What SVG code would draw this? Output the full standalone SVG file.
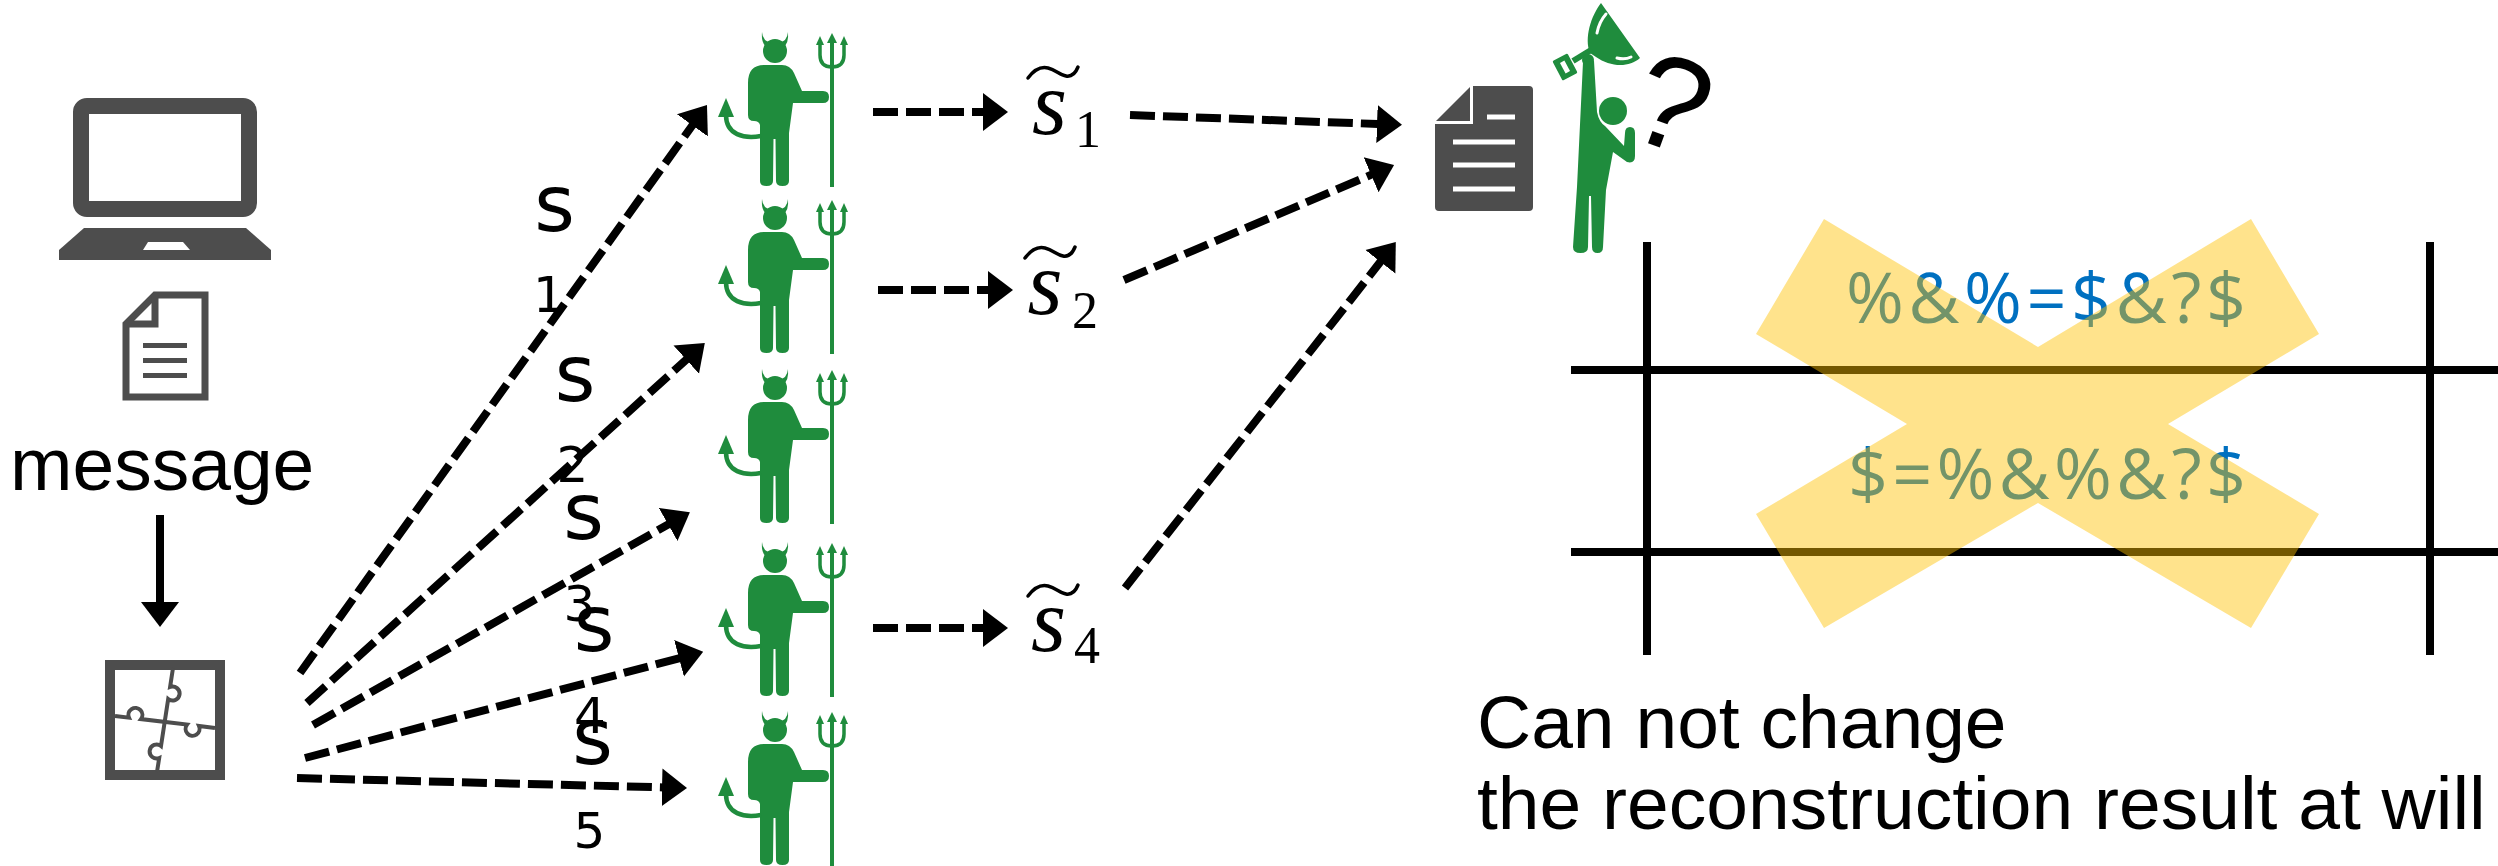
<svg xmlns="http://www.w3.org/2000/svg" xmlns:xlink="http://www.w3.org/1999/xlink" width="2498" height="866" viewBox="0 0 2498 866">
  <style>
    .icon { fill: #4D4D4D; }
    .icon-line { fill: none; stroke: #4D4D4D; }
    .green { fill: #1F8C3D; }
    .green-line { fill: none; stroke: #1F8C3D; }
    .dash { fill: none; stroke: #000; stroke-width: 8; stroke-dasharray: 25 8; }
    .solid { fill: none; stroke: #000; stroke-width: 8; }
    .label { font-family: "Liberation Sans", Arial, sans-serif; font-size: 75px; fill: #000; }
    .share { font-family: "DejaVu Sans", sans-serif; fill: #000; text-anchor: middle; }
    .math { font-family: "Liberation Serif", "Times New Roman", serif; fill: #000; text-anchor: middle; }
    .tilde { fill: none; stroke: #000; stroke-width: 3.5; stroke-linecap: round; }
    .cell { font-family: "Open Sans", "Noto Sans", sans-serif; font-size: 70px; fill: #0070C0; text-anchor: middle; }
    .grid { stroke: #000; stroke-width: 8; }
  </style>
  <defs>
    <marker id="head" markerUnits="userSpaceOnUse" markerWidth="26" markerHeight="40" viewBox="0 0 26 40" refX="1" refY="20" orient="auto">
      <path d="M0,1 L25,20 L0,39 Z" fill="#000"/>
    </marker>
    <!-- devil with trident, local origin at the horn tips / tail tip -->
    <g id="devil-shape">
      <circle class="green" cx="57" cy="18" r="12"/>
      <path class="green" d="M44,-1 Q45,9 53,9 L49,14 Q43,11 44,-1 Z"/>
      <path class="green" d="M70,-1 Q69,9 61,9 L65,14 Q71,11 70,-1 Z"/>
      <path class="green" d="M30,50 Q30,32 46,32 L64,32 Q72,32 76,40 L84,58 L105,58 Q111,58 111,64 Q111,70 105,70 L75,70 L71,100 L71,148 Q71,153 64.5,153 Q58,153 58,148 L57.5,106 L55.5,106 L55,148 Q55,153 48.5,153 Q42,153 42,148 L42,92 Q41,88 36,88 Q30,88 30,82 Z"/>
      <path class="green-line" stroke-width="4.5" d="M43,103 C26,106 8,102 8,82"/>
      <path class="green" d="M0,84 L8,65 L16,84 Z"/>
      <line class="green-line" stroke-width="4" x1="114" y1="6" x2="114" y2="154"/>
      <path class="green" d="M109,10 L114,0 L119,10 Z"/>
      <path class="green-line" stroke-width="3.5" d="M102,9 L102,22 Q102,34 114,34 Q126,34 126,22 L126,9"/>
      <path class="green" d="M98,12 L102,3 L106,12 Z"/>
      <path class="green" d="M122,12 L126,3 L130,12 Z"/>
    </g>
    <path id="tilde" class="tilde" d="M0,12 C6,4 12,0 20,2 C28,4 32,9 38,10 C44,11 48,6 50,1"/>
  </defs>

  <!-- sender laptop -->
  <g id="laptop">
    <rect class="icon-line" x="81" y="106" width="168" height="103" rx="6" stroke-width="16"/>
    <path class="icon" d="M84,228 L246,228 L271,250 L271,260 L59,260 L59,250 Z"/>
    <path fill="#fff" d="M148,242 L183,242 L190,250 L143,250 Z"/>
  </g>

  <!-- message document -->
  <g id="message-doc">
    <path d="M155,295 L205,295 L205,397 L126,397 L126,324 Z" fill="#fff" stroke="#4D4D4D" stroke-width="7"/>
    <path class="icon-line" stroke-width="7" d="M126,324 L155,324 L155,295"/>
    <path class="icon-line" stroke-width="5" d="M143,345.5 H187 M143,360.5 H187 M143,375.5 H187"/>
    <text class="label" x="10" y="490">message</text>
  </g>

  <!-- secret splitting (puzzle) -->
  <g id="splitter">
    <rect class="icon-line" x="110" y="665" width="110" height="110" stroke-width="10"/>
    <path class="icon-line" stroke-width="4" d="M173,668 L170.1,687 A7,7 0 1 1 168.2,699 L161,746 A7,7 0 1 0 159.2,758 L157,772"/>
    <path class="icon-line" stroke-width="4" d="M115,716 L129,717.7 A7,7 0 1 1 141,719.1 L187,724.6 A7,7 0 1 0 199,726 L215,728"/>
  </g>

  <!-- share holders -->
  <g id="holder-1"><use href="#devil-shape" x="718" y="33"/></g>
  <g id="holder-2"><use href="#devil-shape" x="718" y="200"/></g>
  <g id="holder-3"><use href="#devil-shape" x="718" y="370"/></g>
  <g id="holder-4"><use href="#devil-shape" x="718" y="543"/></g>
  <g id="holder-5"><use href="#devil-shape" x="718" y="712"/></g>

  <!-- share labels -->
  <g id="share-labels">
    <text class="share" font-size="78" x="554.5" y="231">s</text>
    <text class="share" font-size="50" x="549" y="312">1</text>
    <text class="share" font-size="78" x="575" y="401">s</text>
    <text class="share" font-size="50" x="572.5" y="482">2</text>
    <text class="share" font-size="78" x="583.5" y="539">s</text>
    <text class="share" font-size="50" x="579.5" y="621">3</text>
    <text class="share" font-size="78" x="594" y="651">s</text>
    <text class="share" font-size="50" x="590" y="733">4</text>
    <text class="share" font-size="78" x="592.5" y="764">s</text>
    <text class="share" font-size="50" x="589.5" y="848">5</text>
  </g>

  <!-- tampered shares -->
  <g id="tampered-1">
    <use href="#tilde" x="1028" y="66"/>
    <text class="math" font-size="90" font-style="italic" x="1049.5" y="134">s</text>
    <text class="math" font-size="52" x="1088" y="147">1</text>
  </g>
  <g id="tampered-2">
    <use href="#tilde" x="1025" y="246"/>
    <text class="math" font-size="90" font-style="italic" x="1045" y="314">s</text>
    <text class="math" font-size="52" x="1085" y="328">2</text>
  </g>
  <g id="tampered-4">
    <use href="#tilde" x="1028" y="584"/>
    <text class="math" font-size="90" font-style="italic" x="1048.5" y="651">s</text>
    <text class="math" font-size="52" x="1087" y="663">4</text>
  </g>

  <!-- reconstructed document -->
  <g id="result-doc">
    <path class="icon" d="M1473,86 H1529 Q1533,86 1533,90 V207 Q1533,211 1529,211 H1439 Q1435,211 1435,207 V124 H1473 Z"/>
    <path class="icon" d="M1436,121 L1470,87 L1470,121 Z"/>
    <path fill="none" stroke="#fff" stroke-width="5" d="M1487,117 H1515 M1453,142 H1515 M1453,165 H1515 M1453,189 H1515"/>
  </g>

  <!-- reconstructing party with trophy -->
  <g id="reconstructor">
    <g transform="translate(1565,67) rotate(62)">
      <rect class="green" x="-11" y="-8.5" width="22" height="17" rx="1.5"/>
      <rect fill="#fff" x="-6" y="-2.5" width="12" height="5"/>
    </g>
    <line class="green-line" stroke-width="6" x1="1573" y1="61" x2="1591" y2="50"/>
    <path class="green" d="M1590,53 C1584,38 1591,16 1601,3 L1640,58 C1629,68 1610,67 1596,57 Z"/>
    <path fill="none" stroke="#fff" stroke-width="3" stroke-linecap="round" d="M1597,33 Q1599,22 1606,14 M1617,58 Q1625,60 1631,57"/>
    <circle class="green" cx="1588" cy="60" r="6"/>
    <path class="green" d="M1583,62 L1594,61 L1597,112 Q1599,122 1605,126 L1624,146 L1625,133 Q1625,127 1630,127 Q1635,127 1635,133 L1635,156 Q1635,164 1627,162 L1613,152 L1606,190 L1603,247 Q1603,253 1597.5,253 Q1592,253 1592,247 L1591,196 L1589,196 L1588,247 Q1588,253 1580.5,253 Q1573,253 1573,247 L1577,187 Z"/>
    <circle class="green" cx="1613" cy="111" r="14"/>
    <text font-family="Liberation Sans, Arial, sans-serif" font-size="132" text-anchor="middle" transform="translate(1656,146) rotate(20)">?</text>
  </g>

  <!-- share table with crossed-out entries -->
  <g id="share-table">
    <text class="cell" x="2046" y="323" textLength="400" lengthAdjust="spacing">%&amp;%=$&amp;?$</text>
    <text class="cell" x="2047" y="499" textLength="398" lengthAdjust="spacing">$=%&amp;%&amp;?$</text>
    <line class="grid" x1="1647" y1="242" x2="1647" y2="655"/>
    <line class="grid" x1="2430" y1="242" x2="2430" y2="655"/>
    <line class="grid" x1="1571" y1="370" x2="2498" y2="370"/>
    <line class="grid" x1="1571" y1="552" x2="2498" y2="552"/>
    <path fill="#FFC000" fill-opacity="0.45" d="M1824,219 L2038,347 L2251,219 L2319,334 L2168,424 L2319,514 L2251,628 L2038,503 L1824,628 L1756,514 L1907,424 L1756,334 Z"/>
  </g>

  <g id="caption">
    <text class="label" x="1477" y="748">Can not change</text>
    <text class="label" x="1477" y="829">the reconstruction result at will</text>
  </g>

  <!-- connectors -->
  <g id="connectors">
    <line class="solid" x1="160" y1="515" x2="160" y2="603" marker-end="url(#head)"/>
    <line class="dash" x1="300" y1="673" x2="693" y2="124.5" marker-end="url(#head)"/>
    <line class="dash" x1="307" y1="703" x2="687" y2="359" marker-end="url(#head)"/>
    <line class="dash" x1="313" y1="725" x2="669" y2="524" marker-end="url(#head)"/>
    <line class="dash" x1="305" y1="758" x2="680" y2="658" marker-end="url(#head)"/>
    <line class="dash" x1="297" y1="778" x2="663" y2="787.4" marker-end="url(#head)"/>
    <line class="dash" x1="873" y1="112" x2="984" y2="112" marker-end="url(#head)"/>
    <line class="dash" x1="878" y1="290" x2="989" y2="290" marker-end="url(#head)"/>
    <line class="dash" x1="873" y1="628" x2="984" y2="628" marker-end="url(#head)"/>
    <line class="dash" x1="1130" y1="115" x2="1378" y2="124" marker-end="url(#head)"/>
    <line class="dash" x1="1124" y1="280" x2="1372" y2="174.4" marker-end="url(#head)"/>
    <line class="dash" x1="1125" y1="588" x2="1381" y2="261" marker-end="url(#head)"/>
  </g>
</svg>
